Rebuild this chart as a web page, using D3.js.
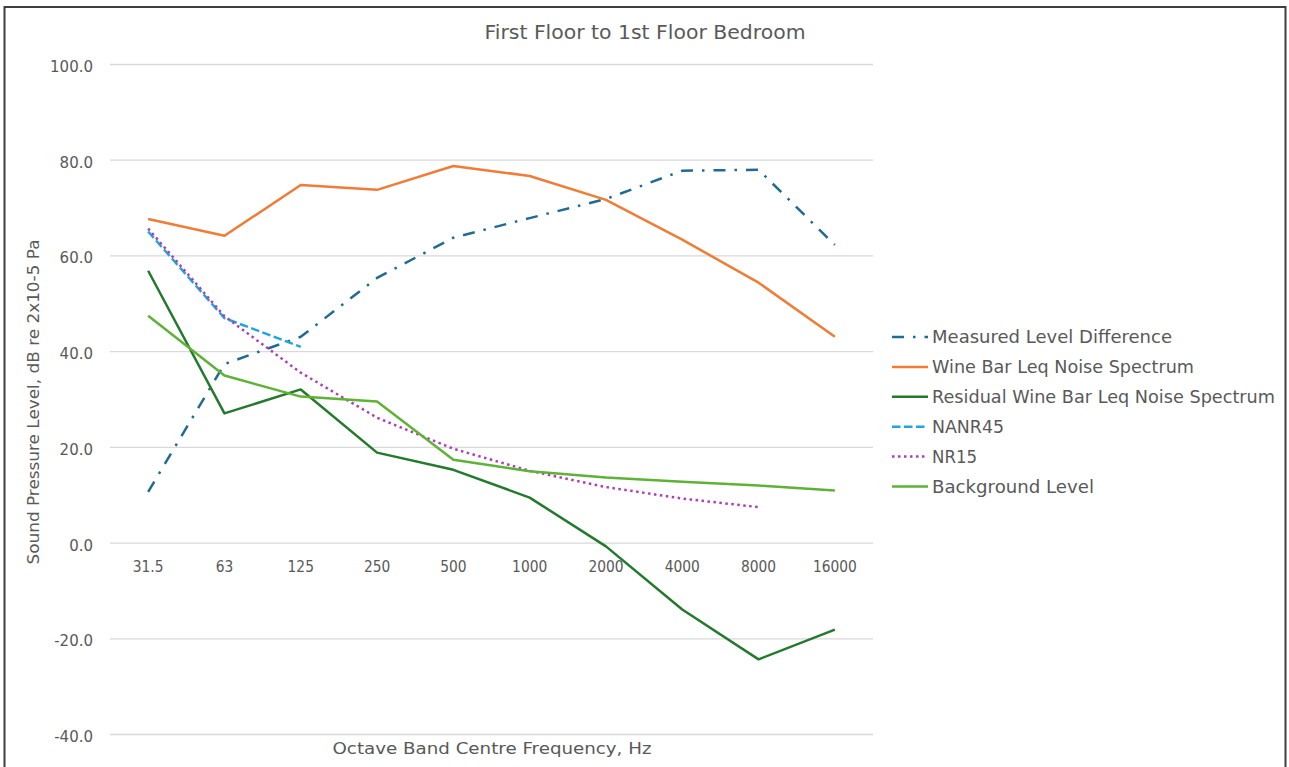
<!DOCTYPE html>
<html>
<head>
<meta charset="utf-8">
<script src="https://cdn.jsdelivr.net/npm/d3@7"></script>
<style>
  body { margin: 0; background: #ffffff; }
  svg { display: block; }
</style>
</head>
<body>
<svg id="chart" width="1289" height="767"></svg>
<script>
// Octave band centre frequencies (Hz)
const frequencies = ["31.5", "63", "125", "250", "500", "1000", "2000", "4000", "8000", "16000"];

// Sound pressure levels, dB
const measuredLevelDifference = [10.6, 37.3, 43.0, 55.3, 63.7, 67.8, 71.8, 77.7, 77.9, 62.2];
const wineBarLeq = [67.6, 64.1, 74.7, 73.7, 78.7, 76.6, 71.6, 63.3, 54.3, 43.0];
const residualWineBarLeq = [56.8, 27.0, 32.0, 18.8, 15.2, 9.4, -0.8, -14.0, -24.4, -18.2];
const nanr45 = [65.0, 46.9, 40.9, null, null, null, null, null, null, null];
const nr15 = [65.6, 47.3, 35.5, 26.1, 19.6, 15.0, 11.6, 9.2, 7.4, null];
const backgroundLevel = [47.4, 34.9, 30.5, 29.5, 17.3, 14.9, 13.6, 12.7, 11.9, 10.9];

// Axis ticks and labels
const yTicks = [-40, -20, 0, 20, 40, 60, 80, 100];
const chartTitle = "First Floor to 1st Floor Bedroom";
const xTitle = "Octave Band Centre Frequency, Hz";
const yTitle = "Sound Pressure Level, dB re 2x10-5 Pa";

const series = [
  { name: "Measured Level Difference", values: measuredLevelDifference, color: "#1F6B91", dash: "12,9,2.5,9", width: 2.5 },
  { name: "Wine Bar Leq Noise Spectrum", values: wineBarLeq, color: "#F07C35", dash: null, width: 2.5 },
  { name: "Residual Wine Bar Leq Noise Spectrum", values: residualWineBarLeq, color: "#237A2C", dash: null, width: 2.5 },
  { name: "NANR45", values: nanr45, color: "#1FA6DE", dash: "8.5,3.5", width: 2.5 },
  { name: "NR15", values: nr15, color: "#B03DB3", dash: "2.5,3.5", width: 2.5 },
  { name: "Background Level", values: backgroundLevel, color: "#5EB236", dash: null, width: 2.5 }
];

const svg = d3.select("#chart");
const textColor = "#595959";
const fontFamily = "'DejaVu Sans', sans-serif";

// Outer chart frame
svg.append("rect")
  .attr("x", 4.5).attr("y", 7).attr("width", 1281).attr("height", 800)
  .attr("fill", "#ffffff").attr("stroke", "#3f3f3f").attr("stroke-width", 2);

const plot = { left: 110, right: 873, top: 64, bottom: 734 };

const x = d3.scaleBand().domain(frequencies).range([plot.left, plot.right]);
const y = d3.scaleLinear().domain([-40, 100]).range([plot.bottom, plot.top]);

// Horizontal gridlines
svg.append("g")
  .attr("transform", `translate(${plot.left},0)`)
  .call(d3.axisLeft(y).tickValues(yTicks).tickSize(-(plot.right - plot.left)).tickFormat(""))
  .call(g => g.select(".domain").remove())
  .call(g => g.selectAll("line").attr("stroke", "#d9d9d9").attr("stroke-width", 1.3));

// Y tick labels
svg.append("g")
  .attr("transform", `translate(${plot.left},0)`)
  .call(d3.axisLeft(y).tickValues(yTicks).tickSize(0).tickPadding(17).tickFormat(d => d.toFixed(1)))
  .call(g => g.select(".domain").remove())
  .call(g => g.selectAll("text")
    .attr("fill", textColor).attr("font-family", fontFamily).attr("font-size", 15)
    .attr("dy", "0.5em"));

// X tick labels, sitting under the zero line
svg.append("g")
  .attr("transform", `translate(0,${y(0)})`)
  .call(d3.axisBottom(x).tickSize(0).tickPadding(19))
  .call(g => g.select(".domain").remove())
  .call(g => g.selectAll("text")
    .attr("fill", textColor).attr("font-family", fontFamily).attr("font-size", 15)
    .attr("transform", "scale(0.92,1)"));

// Series lines
const line = d3.line()
  .defined(d => d.v !== null)
  .x(d => x(d.f) + x.bandwidth() / 2)
  .y(d => y(d.v));

series.forEach(s => {
  const pts = frequencies.map((f, i) => ({ f, v: s.values[i] }));
  svg.append("path")
    .datum(pts)
    .attr("d", line)
    .attr("fill", "none")
    .attr("stroke", s.color)
    .attr("stroke-width", s.width)
    .attr("stroke-linejoin", "round")
    .attr("stroke-dasharray", s.dash);
});

// Title
svg.append("text")
  .attr("x", 645).attr("y", 39)
  .attr("text-anchor", "middle")
  .attr("fill", textColor).attr("font-family", fontFamily).attr("font-size", 20)
  .attr("textLength", 321).attr("lengthAdjust", "spacingAndGlyphs")
  .text(chartTitle);

// Axis titles
svg.append("text")
  .attr("x", 492).attr("y", 754)
  .attr("text-anchor", "middle")
  .attr("fill", textColor).attr("font-family", fontFamily).attr("font-size", 16)
  .attr("textLength", 319).attr("lengthAdjust", "spacingAndGlyphs")
  .text(xTitle);

svg.append("text")
  .attr("transform", "translate(39,402) rotate(-90)")
  .attr("text-anchor", "middle")
  .attr("fill", textColor).attr("font-family", fontFamily).attr("font-size", 16)
  .attr("textLength", 325).attr("lengthAdjust", "spacingAndGlyphs")
  .text(yTitle);

// Legend
const legendWidths = [240, 262, 343, 72, 45, 162];
const legend = svg.append("g").attr("transform", "translate(892,337)");
series.forEach((s, i) => {
  const row = legend.append("g").attr("transform", `translate(0,${i * 29.9})`);
  row.append("line")
    .attr("x1", 0).attr("x2", 36).attr("y1", 0).attr("y2", 0)
    .attr("stroke", s.color).attr("stroke-width", s.width)
    .attr("stroke-dasharray", s.dash);
  row.append("text")
    .attr("x", 40).attr("y", 6)
    .attr("fill", textColor).attr("font-family", fontFamily).attr("font-size", 17)
    .attr("textLength", legendWidths[i]).attr("lengthAdjust", "spacingAndGlyphs")
    .text(s.name);
});
</script>
</body>
</html>
